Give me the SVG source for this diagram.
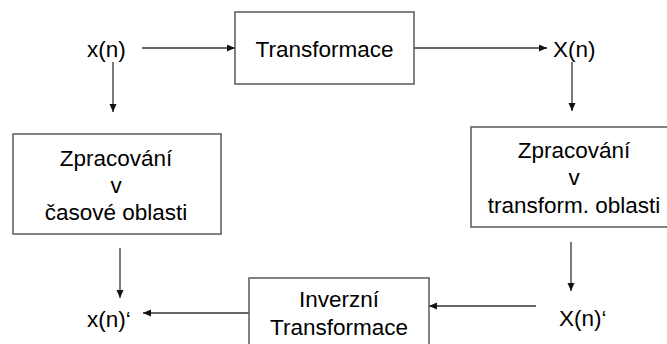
<svg xmlns="http://www.w3.org/2000/svg" width="667" height="344" viewBox="0 0 667 344">
<defs>
<style>
.box{fill:#fff;stroke:#5a5a5a;stroke-width:1.5}
.t{font-family:"Liberation Sans",Arial,sans-serif;font-size:22.5px;fill:#000}
.c{text-anchor:middle}
.ln{stroke:#333;stroke-width:1.3;fill:none;marker-end:url(#ah)}
</style>
<marker id="ah" markerUnits="userSpaceOnUse" markerWidth="9" markerHeight="8" refX="8" refY="3.5" orient="auto">
<path d="M0,0 L8,3.5 L0,7 z" fill="#111"/>
</marker>
</defs>
<rect width="667" height="344" fill="#fff"/>
<g id="connectors">
<line class="ln" x1="142" y1="48" x2="235" y2="48"/>
<line class="ln" x1="414" y1="48" x2="547" y2="48"/>
<line class="ln" x1="113" y1="62" x2="113" y2="112"/>
<line class="ln" x1="572" y1="62" x2="572" y2="111"/>
<line class="ln" x1="120" y1="248" x2="120" y2="298"/>
<line class="ln" x1="571" y1="242" x2="571" y2="291"/>
<line class="ln" x1="536" y1="306" x2="429" y2="306"/>
<line class="ln" x1="249" y1="313" x2="143" y2="313"/>
</g>
<g id="xn"><text class="t" x="87" y="57">x(n)</text></g>
<g id="Xn"><text class="t" x="553" y="57">X(n)</text></g>
<g id="transformace">
<rect class="box" x="235" y="12" width="179" height="72"/>
<text class="t c" x="324.5" y="57">Transformace</text>
</g>
<g id="zprac-cas">
<rect class="box" x="13" y="134" width="208" height="100"/>
<text class="t c" x="116" y="166">Zpracování</text>
<text class="t c" x="116" y="193">v</text>
<text class="t c" x="116" y="220">časové oblasti</text>
</g>
<g id="zprac-trans">
<rect class="box" x="471" y="127" width="210" height="100"/>
<text class="t c" x="574" y="158">Zpracování</text>
<text class="t c" x="574" y="185">v</text>
<text class="t c" x="574" y="213">transform. oblasti</text>
</g>
<g id="inverzni">
<rect class="box" x="249" y="278" width="180" height="80"/>
<text class="t c" x="339" y="307">Inverzní</text>
<text class="t c" x="339" y="335">Transformace</text>
</g>
<g id="xn2"><text class="t" x="87" y="327">x(n)‘</text></g>
<g id="Xn2"><text class="t" x="559" y="326">X(n)‘</text></g>
</svg>
